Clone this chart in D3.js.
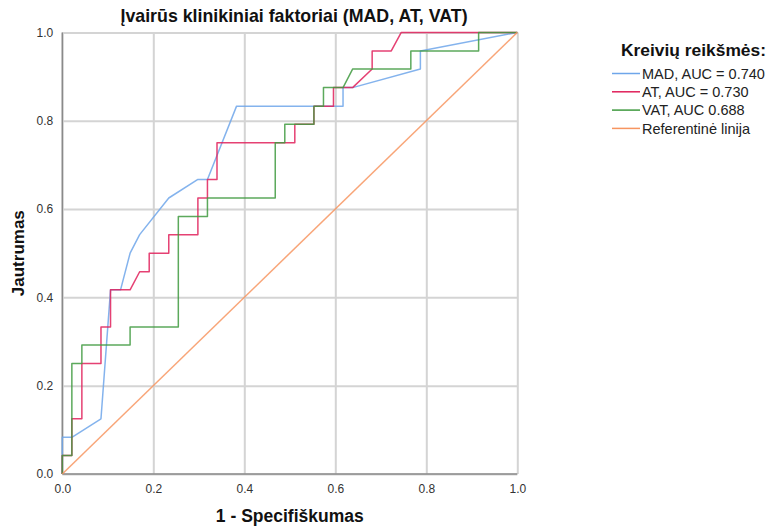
<!DOCTYPE html>
<html>
<head>
<meta charset="utf-8">
<script src="https://cdn.jsdelivr.net/npm/d3@7/dist/d3.min.js"></script>
<style>
  html, body { margin: 0; padding: 0; background: #fff; }
  svg { display: block; font-family: "Liberation Sans", Arial, sans-serif; }
</style>
</head>
<body>
<svg id="chart" width="771" height="526"></svg>
<script>
// ROC curves: 1 - specificity (x) and sensitivity (y) for each predictor
const madFpr = [0, 0, 0.021, 0.085, 0.106, 0.128, 0.149, 0.170, 0.234, 0.298, 0.319, 0.383, 0.617, 0.617, 0.638, 0.787, 0.787, 1];
const madTpr = [0, 0.083, 0.083, 0.125, 0.417, 0.417, 0.5, 0.542, 0.625, 0.667, 0.667, 0.833, 0.833, 0.875, 0.875, 0.917, 0.958, 1];

const atFpr = [0, 0, 0.021, 0.021, 0.043, 0.043, 0.085, 0.085, 0.106, 0.106, 0.149, 0.170, 0.191, 0.191, 0.234, 0.234, 0.298, 0.298, 0.319, 0.319, 0.340, 0.340, 0.511, 0.511, 0.553, 0.553, 0.596, 0.596, 0.638, 0.681, 0.681, 0.723, 0.745, 1];
const atTpr = [0, 0.042, 0.042, 0.125, 0.125, 0.25, 0.25, 0.333, 0.333, 0.417, 0.417, 0.458, 0.458, 0.5, 0.5, 0.542, 0.542, 0.625, 0.625, 0.667, 0.667, 0.75, 0.75, 0.792, 0.792, 0.833, 0.833, 0.875, 0.875, 0.917, 0.958, 0.958, 1, 1];

const vatFpr = [0, 0, 0.021, 0.021, 0.043, 0.043, 0.149, 0.149, 0.255, 0.255, 0.319, 0.319, 0.468, 0.468, 0.489, 0.489, 0.553, 0.553, 0.574, 0.574, 0.617, 0.638, 0.766, 0.766, 0.915, 0.915, 1];
const vatTpr = [0, 0.042, 0.042, 0.25, 0.25, 0.292, 0.292, 0.333, 0.333, 0.583, 0.583, 0.625, 0.625, 0.75, 0.75, 0.792, 0.792, 0.833, 0.833, 0.875, 0.875, 0.917, 0.917, 0.958, 0.958, 1, 1];

const refFpr = [0, 1];
const refTpr = [0, 1];

const seriesNames = ["MAD, AUC = 0.740", "AT, AUC = 0.730", "VAT, AUC 0.688", "Referentinė linija"];
const seriesColors = ["#6ea6ea", "#e0205a", "#3f9a3f", "#f79560"];
const axisTicks = [0, 0.2, 0.4, 0.6, 0.8, 1.0];

const chartTitle = "Įvairūs klinikiniai faktoriai (MAD, AT, VAT)";
const xTitle = "1 - Specifiškumas";
const yTitle = "Jautrumas";
const legendTitle = "Kreivių reikšmės:";

const svg = d3.select("#chart");
const plot = { left: 62.3, right: 517.3, top: 32.4, bottom: 474 };

const x = d3.scaleLinear().domain([0, 1]).range([plot.left, plot.right]);
const y = d3.scaleLinear().domain([0, 1]).range([plot.bottom, plot.top]);

// grid + tick labels
const xAxis = d3.axisBottom(x).tickValues(axisTicks).tickFormat(d3.format(".1f"))
  .tickSize(-(plot.bottom - plot.top)).tickPadding(10);
const yAxis = d3.axisLeft(y).tickValues(axisTicks).tickFormat(d3.format(".1f"))
  .tickSize(-(plot.right - plot.left)).tickPadding(9);

const gx = svg.append("g").attr("transform", `translate(0,${plot.bottom})`).call(xAxis);
const gy = svg.append("g").attr("transform", `translate(${plot.left},0)`).call(yAxis);

[gx, gy].forEach(g => {
  g.select(".domain").remove();
  g.selectAll(".tick line").attr("stroke", "#d4d4d4").attr("stroke-width", 2);
  g.selectAll(".tick text").attr("fill", "#333").attr("font-size", 12)
    .attr("font-family", "'Liberation Sans', Arial, sans-serif");
});

// axis lines on the left and bottom
svg.append("line")
  .attr("x1", x(0)).attr("x2", x(0)).attr("y1", y(0)).attr("y2", y(1))
  .attr("stroke", "#8a8a8a").attr("stroke-width", 1.5);
svg.append("line")
  .attr("x1", x(0)).attr("x2", x(1)).attr("y1", y(0)).attr("y2", y(0))
  .attr("stroke", "#8a8a8a").attr("stroke-width", 1.5);

// curves
const curves = [
  d3.zip(madFpr, madTpr),
  d3.zip(atFpr, atTpr),
  d3.zip(vatFpr, vatTpr),
  d3.zip(refFpr, refTpr)
];
const line = d3.line().x(d => x(d[0])).y(d => y(d[1]));

svg.append("g").selectAll("path")
  .data(curves)
  .join("path")
  .attr("d", line)
  .attr("fill", "none")
  .attr("stroke", (d, i) => seriesColors[i])
  .attr("stroke-width", 1.5)
  .attr("stroke-opacity", 0.85)
  .attr("stroke-linejoin", "round");

// titles
svg.append("text")
  .attr("x", 294).attr("y", 22)
  .attr("text-anchor", "middle").attr("font-size", 17.8).attr("font-weight", "bold")
  .attr("fill", "#111").text(chartTitle);

svg.append("text")
  .attr("x", (plot.left + plot.right) / 2).attr("y", 522)
  .attr("text-anchor", "middle").attr("font-size", 17.5).attr("font-weight", "bold")
  .attr("fill", "#111").text(xTitle);

svg.append("text")
  .attr("transform", `translate(23.5,${(plot.top + plot.bottom) / 2}) rotate(-90)`)
  .attr("text-anchor", "middle").attr("font-size", 17).attr("font-weight", "bold")
  .attr("fill", "#111").text(yTitle);

// legend
const legend = svg.append("g");
legend.append("text")
  .attr("x", 621).attr("y", 56)
  .attr("font-size", 17.4).attr("font-weight", "bold").attr("fill", "#111")
  .text(legendTitle);

const items = legend.selectAll("g.item")
  .data(seriesNames)
  .join("g")
  .attr("class", "item")
  .attr("transform", (d, i) => `translate(0,${73.5 + i * 18.3})`);

items.append("line")
  .attr("x1", 612).attr("x2", 640).attr("y1", 0).attr("y2", 0)
  .attr("stroke", (d, i) => seriesColors[i]).attr("stroke-width", 1.5);

items.append("text")
  .attr("x", 642).attr("y", 5.2)
  .attr("font-size", 14.5).attr("fill", "#222")
  .text(d => d);
</script>
</body>
</html>
